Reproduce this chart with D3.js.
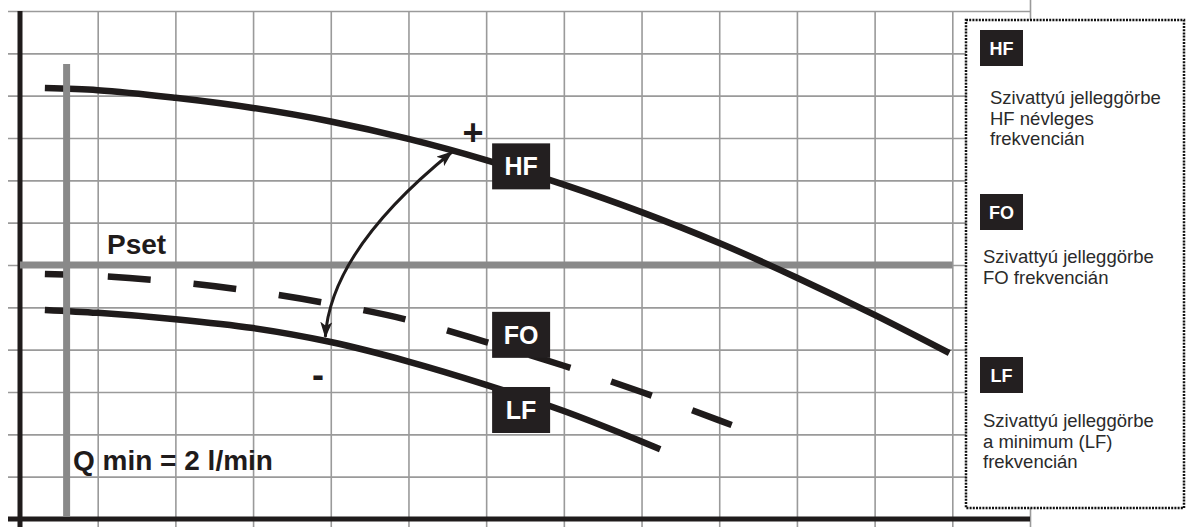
<!DOCTYPE html>
<html>
<head>
<meta charset="utf-8">
<script src="https://cdn.jsdelivr.net/npm/d3@7"></script>
<style>
  html, body { margin: 0; padding: 0; background: #fff; }
  svg { display: block; }
  text { font-family: "Liberation Sans", Arial, Helvetica, sans-serif; }
</style>
</head>
<body>
<svg id="chart" width="1186" height="527"></svg>
<script>
// Pump characteristic curves: flow (grid units) vs. head (grid units)
const hfQ = [0.32, 1, 2, 3, 4, 5, 6, 7, 8, 9, 10, 11, 11.96];
const hfH = [10.18, 10.13, 9.95, 9.71, 9.39, 8.98, 8.48, 7.90, 7.25, 6.52, 5.70, 4.82, 3.92];

const foQ = [0.32, 1, 2, 3, 4, 5, 6, 7, 8, 9, 9.16];
const foH = [5.79, 5.74, 5.60, 5.38, 5.08, 4.70, 4.18, 3.62, 3.00, 2.33, 2.22];

const lfQ = [0.32, 1, 2, 3, 4, 5, 6, 7, 8, 8.24];
const lfH = [4.94, 4.87, 4.72, 4.51, 4.18, 3.72, 3.17, 2.55, 1.83, 1.65];

// Set pressure and minimum flow markers
const pSet = 6;
const qMin = 0.6;
const qMinTop = 10.75;

// Curve tags placed on the chart
const tagNames = ["HF", "FO", "LF"];
const tagQ = [6.45, 6.45, 6.45];
const tagH = [8.33, 4.35, 2.575];

// Double arrow between LF and HF (start, control, end)
const arrowQ = [3.93, 4.0, 5.56];
const arrowH = [4.30, 6.35, 8.67];

// Legend entries
const legendTags = ["HF", "FO", "LF"];
const legendLines = [
  ["Szivattyú jelleggörbe", "HF névleges", "frekvencián"],
  ["Szivattyú jelleggörbe", "FO frekvencián"],
  ["Szivattyú jelleggörbe", "a minimum (LF)", "frekvencián"]
];

const xTicks = d3.range(0, 14);
const yTicks = d3.range(0, 13);

const svg = d3.select("#chart");
const x = d3.scaleLinear().domain([0, 13]).range([20, 1030]);
const y = d3.scaleLinear().domain([0, 12]).range([519, 11]);

const ink = "#1f1b1b";
const gridCol = "#9a9a9a";
const bandCol = "#898989";

svg.append("rect").attr("width", 1186).attr("height", 527).attr("fill", "#fff");

// Grid: horizontal lines via a left axis with long ticks
const gy = svg.append("g").attr("transform", `translate(${x(0)},0)`)
  .call(d3.axisLeft(y).tickValues(yTicks).tickSize(0).tickFormat(""));
gy.select(".domain").remove();
gy.selectAll(".tick line")
  .attr("x1", 8 - x(0)).attr("x2", x(13) - x(0))
  .attr("stroke", gridCol).attr("stroke-width", 1.6);

// Grid: vertical lines via a bottom axis with long ticks
const gx = svg.append("g").attr("transform", `translate(0,${y(0)})`)
  .call(d3.axisBottom(x).tickValues(xTicks).tickSize(0).tickFormat(""));
gx.select(".domain").remove();
gx.selectAll(".tick line")
  .attr("y1", 527 - y(0)).attr("y2", d => (d === 13 ? 0 : y(12)) - y(0))
  .attr("stroke", gridCol).attr("stroke-width", 1.6);

// Axes lines
svg.append("line").attr("x1", x(0)).attr("x2", x(0)).attr("y1", y(12)).attr("y2", 527)
  .attr("stroke", ink).attr("stroke-width", 5);
svg.append("line").attr("x1", 8).attr("x2", x(13)).attr("y1", y(0)).attr("y2", y(0))
  .attr("stroke", ink).attr("stroke-width", 5);

// Pset band
svg.append("line").attr("x1", x(0)).attr("x2", x(12)).attr("y1", y(pSet)).attr("y2", y(pSet))
  .attr("stroke", bandCol).attr("stroke-width", 7);

const line = d3.line().x(d => x(d[0])).y(d => y(d[1])).curve(d3.curveMonotoneX);

// HF curve
svg.append("path").datum(hfQ.map((q, i) => [q, hfH[i]]))
  .attr("d", line).attr("fill", "none").attr("stroke", ink).attr("stroke-width", 6.5);

// FO curve (dashed)
svg.append("path").datum(foQ.map((q, i) => [q, foH[i]]))
  .attr("d", line).attr("fill", "none").attr("stroke", ink).attr("stroke-width", 6.5)
  .attr("stroke-dasharray", "43,43").attr("stroke-dashoffset", 23);

// LF curve
svg.append("path").datum(lfQ.map((q, i) => [q, lfH[i]]))
  .attr("d", line).attr("fill", "none").attr("stroke", ink).attr("stroke-width", 6.5);

// Qmin bar
svg.append("line").attr("x1", x(qMin)).attr("x2", x(qMin)).attr("y1", y(qMinTop)).attr("y2", y(0.05))
  .attr("stroke", bandCol).attr("stroke-width", 7);

// Arrow markers
const defs = svg.append("defs");
defs.append("marker").attr("id", "ah")
  .attr("viewBox", "0 0 16 12").attr("refX", 15).attr("refY", 6)
  .attr("markerWidth", 16).attr("markerHeight", 12)
  .attr("markerUnits", "userSpaceOnUse")
  .attr("orient", "auto-start-reverse")
  .append("path").attr("d", "M0,0 L16,6 L0,12 L4,6 Z").attr("fill", ink);

const ap = d3.path();
ap.moveTo(x(arrowQ[0]), y(arrowH[0]));
ap.quadraticCurveTo(x(arrowQ[1]), y(arrowH[1]), x(arrowQ[2]), y(arrowH[2]));
svg.append("path").attr("d", ap.toString()).attr("fill", "none")
  .attr("stroke", ink).attr("stroke-width", 3)
  .attr("marker-start", "url(#ah)").attr("marker-end", "url(#ah)");

// + / - signs
svg.append("text").attr("x", 473).attr("y", 145).attr("text-anchor", "middle")
  .attr("font-size", 36).attr("font-weight", "bold").attr("fill", ink).text("+");
svg.append("text").attr("x", 318).attr("y", 387).attr("text-anchor", "middle")
  .attr("font-size", 36).attr("font-weight", "bold").attr("fill", ink).text("-");

// Curve tags
tagNames.forEach((n, i) => {
  const cx = x(tagQ[i]), cy = y(tagH[i]);
  svg.append("rect").attr("x", cx - 29).attr("y", cy - 23).attr("width", 58).attr("height", 46)
    .attr("fill", "#231f20");
  svg.append("text").attr("x", cx).attr("y", cy + 9).attr("text-anchor", "middle")
    .attr("font-size", 25).attr("font-weight", "bold").attr("fill", "#fff").text(n);
});

// Labels
svg.append("text").attr("x", 107).attr("y", 254).attr("font-size", 28).attr("font-weight", "bold")
  .attr("fill", ink).text("Pset");
svg.append("text").attr("x", 73).attr("y", 470).attr("font-size", 28).attr("font-weight", "bold")
  .attr("fill", ink).text("Q min = 2 l/min");

// Legend box
svg.append("rect").attr("x", 966).attr("y", 20).attr("width", 218).attr("height", 488)
  .attr("fill", "#fff").attr("stroke", "#111").attr("stroke-width", 2.5)
  .attr("stroke-dasharray", "2,1.2");

const legTagY = [30, 194, 357];
const legTextX = [990, 983, 983];
const legTextY = [104, 263, 427];
legendTags.forEach((n, i) => {
  svg.append("rect").attr("x", 980).attr("y", legTagY[i]).attr("width", 43).attr("height", 36)
    .attr("fill", "#231f20");
  svg.append("text").attr("x", 1001.5).attr("y", legTagY[i] + 24.5).attr("text-anchor", "middle")
    .attr("font-size", 18).attr("font-weight", "bold").attr("fill", "#fff").text(n);
  legendLines[i].forEach((t, j) => {
    svg.append("text").attr("x", legTextX[i]).attr("y", legTextY[i] + j * 20.5)
      .attr("font-size", 18.5).attr("fill", "#2a2a2a").text(t);
  });
});
</script>
</body>
</html>
